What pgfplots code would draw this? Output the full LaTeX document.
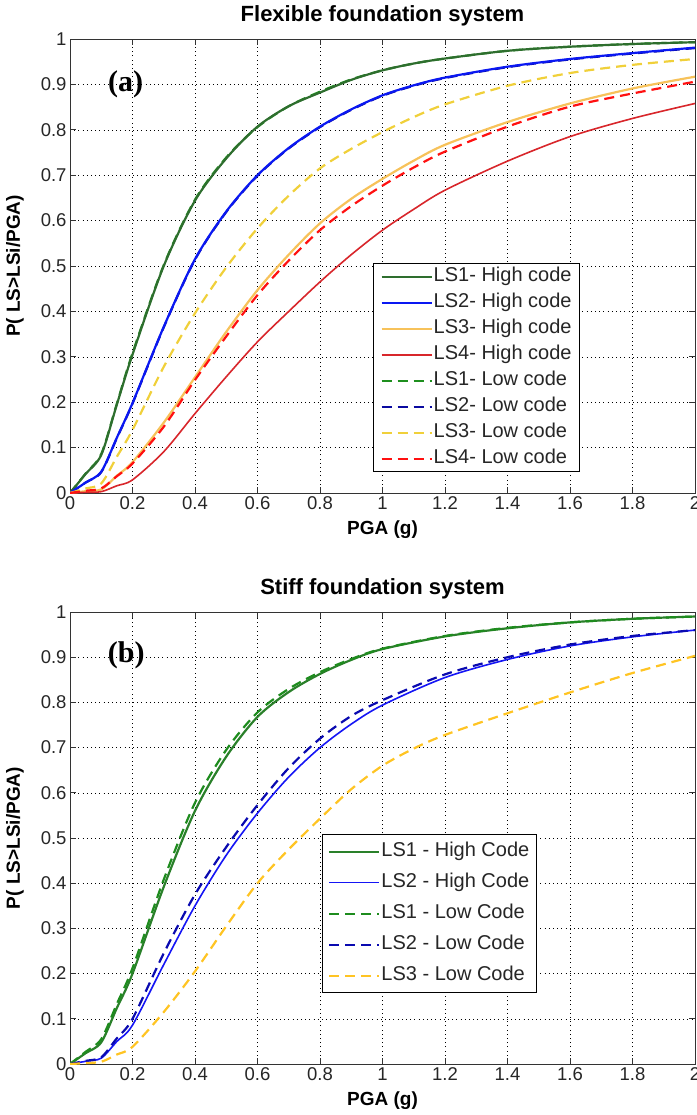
\documentclass[border=0pt]{standalone}
\usepackage{pgfplots}
\pgfplotsset{compat=1.18}
\usepackage{fontspec}
\setmainfont{Liberation Sans}
\newfontfamily\timesfont{Liberation Serif}

\definecolor{gA}{HTML}{2E6E2E}
\definecolor{gB}{HTML}{1E8F1E}
\definecolor{bA}{HTML}{0A18F2}
\definecolor{bB}{HTML}{0A0AA0}
\definecolor{yA}{HTML}{F7C25A}
\definecolor{yB}{HTML}{F0D03A}
\definecolor{rA}{HTML}{D8262B}
\definecolor{rB}{HTML}{FF1010}
\definecolor{gC}{HTML}{2A802A}
\definecolor{gD}{HTML}{1E8C1E}
\definecolor{bC}{HTML}{1515F5}
\definecolor{bD}{HTML}{0A0AB0}
\definecolor{yD}{HTML}{FFC423}

\pgfplotsset{
  mat/.style={
    scale only axis, width=625bp,
    xmin=0, xmax=2, ymin=0, ymax=1,
    xtick={0,0.2,0.4,0.6,0.8,1,1.2,1.4,1.6,1.8,2},
    ytick={0,0.1,0.2,0.3,0.4,0.5,0.6,0.7,0.8,0.9,1},
    grid=major,
    major grid style={black, line width=0.6bp, dash pattern=on 0.8bp off 3.4bp},
    tick pos=both, tick align=inside, major tick length=6bp,
    tick style={black!80, line width=0.8bp},
    axis line style={black!80, line width=1bp},
    every tick label/.append style={font=\fontsize{18.5bp}{20bp}\selectfont, text=black!85},
    /pgf/number format/fixed,
    /pgf/number format/precision=1,
    /pgf/number format/assume math mode=true,
    title style={font=\bfseries\fontsize{22bp}{24bp}\selectfont, at={(axis description cs:0.5,1)}, anchor=base, yshift=12bp},
    every axis x label/.style={at={(axis description cs:0.5,0)}, anchor=base, yshift=-41bp, font=\bfseries\fontsize{19bp}{22bp}\selectfont},
    every axis y label/.style={at={(axis description cs:-0.088,0.5)}, rotate=90, anchor=center, font=\bfseries\fontsize{19bp}{22bp}\selectfont},
    xlabel={PGA (g)},
    ylabel={P( LS>LSi/PGA)},
    legend cell align=left,
    legend image code/.code={\draw[##1] (0bp,0bp) -- (50bp,0bp);},
    every axis plot/.append style={smooth, tension=0.5},
  },
  sol/.style={solid, line width=2.2bp},
  das/.style={line width=2.2bp, dash pattern=on 10bp off 6bp},
}

\begin{document}
\begin{tikzpicture}
\useasboundingbox (0bp,0bp) rectangle (697bp,-1115bp);

% ---------------- Panel (a) ----------------
\begin{axis}[mat, at={(70bp,-493bp)}, anchor=south west, height=454bp,
  title={Flexible foundation system},
  legend style={at={(rel axis cs:0.485,0.046)}, anchor=south west, draw=black, line width=0.8bp, fill=white,
    font=\fontsize{20bp}{22bp}\selectfont, text=black!85, row sep=6bp,
    nodes={inner sep=1bp, text height=14bp, text depth=4bp}, inner xsep=7bp, inner ysep=3bp},
]
\addplot[das, color=gB, forget plot] coordinates {(0,0) (0.05,0.043) (0.1,0.086) (0.15,0.197) (0.2,0.308) (0.3,0.502) (0.4,0.646) (0.5,0.739) (0.6,0.806) (0.7,0.852) (0.8,0.884) (0.9,0.911) (1.0,0.931) (1.1,0.946) (1.2,0.957) (1.4,0.974) (1.6,0.983) (1.8,0.989) (2.0,0.993)};
\addplot[sol, color=gA, forget plot] coordinates {(0,0) (0.05,0.042) (0.1,0.084) (0.15,0.195) (0.2,0.305) (0.3,0.500) (0.4,0.644) (0.5,0.737) (0.6,0.807) (0.7,0.852) (0.8,0.882) (0.9,0.910) (1.0,0.931) (1.1,0.946) (1.2,0.957) (1.4,0.974) (1.6,0.983) (1.8,0.989) (2.0,0.993)};
\addplot[das, color=bB, forget plot] coordinates {(0,0) (0.05,0.023) (0.1,0.046) (0.15,0.121) (0.2,0.197) (0.3,0.365) (0.4,0.514) (0.5,0.619) (0.6,0.699) (0.7,0.759) (0.8,0.806) (0.9,0.844) (1.0,0.875) (1.1,0.897) (1.2,0.914) (1.4,0.938) (1.6,0.955) (1.8,0.968) (2.0,0.980)};
\addplot[sol, color=bA, forget plot] coordinates {(0,0) (0.05,0.023) (0.1,0.047) (0.15,0.122) (0.2,0.198) (0.3,0.366) (0.4,0.515) (0.5,0.620) (0.6,0.700) (0.7,0.760) (0.8,0.807) (0.9,0.845) (1.0,0.876) (1.1,0.898) (1.2,0.915) (1.4,0.939) (1.6,0.956) (1.8,0.969) (2.0,0.981)};
\addplot[sol, color=yA, forget plot] coordinates {(0,0) (0.05,0.004) (0.1,0.008) (0.15,0.038) (0.2,0.068) (0.3,0.155) (0.4,0.255) (0.5,0.355) (0.6,0.447) (0.7,0.525) (0.8,0.594) (0.9,0.648) (1.0,0.692) (1.1,0.732) (1.2,0.767) (1.4,0.817) (1.6,0.858) (1.8,0.891) (2.0,0.917)};
\addplot[sol, line width=1.6bp, color=rA, forget plot] coordinates {(0,0) (0.05,0.0015) (0.1,0.003) (0.15,0.016) (0.2,0.029) (0.3,0.091) (0.4,0.175) (0.5,0.256) (0.6,0.333) (0.7,0.400) (0.8,0.465) (0.9,0.525) (1.0,0.579) (1.1,0.625) (1.2,0.667) (1.4,0.731) (1.6,0.785) (1.8,0.825) (2.0,0.858)};
\addplot[das, color=yB, forget plot] coordinates {(0,0) (0.05,0.010) (0.1,0.021) (0.15,0.080) (0.2,0.139) (0.3,0.278) (0.4,0.396) (0.5,0.497) (0.6,0.583) (0.7,0.655) (0.8,0.715) (0.9,0.758) (1.0,0.795) (1.1,0.828) (1.2,0.856) (1.4,0.897) (1.6,0.925) (1.8,0.943) (2.0,0.956)};
\addplot[das, color=rB, forget plot] coordinates {(0,0) (0.05,0.005) (0.1,0.010) (0.15,0.037) (0.2,0.065) (0.3,0.146) (0.4,0.249) (0.5,0.345) (0.6,0.436) (0.7,0.512) (0.8,0.579) (0.9,0.632) (1.0,0.677) (1.1,0.717) (1.2,0.752) (1.4,0.807) (1.6,0.851) (1.8,0.880) (2.0,0.906)};
\addlegendimage{sol, color=gA}\addlegendentry{LS1- High code}
\addlegendimage{sol, color=bA}\addlegendentry{LS2- High code}
\addlegendimage{sol, color=yA}\addlegendentry{LS3- High code}
\addlegendimage{sol, color=rA}\addlegendentry{LS4- High code}
\addlegendimage{das, color=gB}\addlegendentry{LS1- Low code}
\addlegendimage{das, color=bB}\addlegendentry{LS2- Low code}
\addlegendimage{das, color=yB}\addlegendentry{LS3- Low code}
\addlegendimage{das, color=rB}\addlegendentry{LS4- Low code}
\node[anchor=center, inner sep=0pt, font=\timesfont\bfseries\fontsize{30bp}{32bp}\selectfont] at (axis cs:0.178,0.9) {(a)};
\end{axis}

% ---------------- Panel (b) ----------------
\begin{axis}[mat, at={(70bp,-1064bp)}, anchor=south west, height=452bp,
  title={Stiff foundation system},
  legend style={at={(rel axis cs:0.403,0.157)}, anchor=south west, draw=black, line width=0.8bp, fill=white,
    font=\fontsize{20bp}{22bp}\selectfont, text=black!85, row sep=11bp,
    nodes={inner sep=1bp, text height=14bp, text depth=4bp}, inner xsep=6bp, inner ysep=7bp},
]
\addplot[sol, color=gC] coordinates {(0,0) (0.05,0.024) (0.1,0.048) (0.15,0.124) (0.2,0.200) (0.3,0.392) (0.4,0.560) (0.5,0.680) (0.6,0.768) (0.7,0.823) (0.8,0.863) (0.9,0.894) (1.0,0.918) (1.2,0.946) (1.4,0.964) (1.6,0.977) (1.8,0.985) (2.0,0.990)};
\addlegendentry{LS1 - High Code}
\addplot[sol, line width=1.6bp, color=bC] coordinates {(0,0) (0.05,0.006) (0.1,0.013) (0.15,0.050) (0.2,0.086) (0.3,0.220) (0.4,0.350) (0.5,0.462) (0.6,0.555) (0.7,0.635) (0.8,0.700) (0.9,0.752) (1.0,0.794) (1.2,0.855) (1.4,0.895) (1.6,0.925) (1.8,0.945) (2.0,0.960)};
\addlegendentry{LS2 - High Code}
\addplot[das, color=gD] coordinates {(0,0) (0.05,0.027) (0.1,0.055) (0.15,0.133) (0.2,0.212) (0.3,0.408) (0.4,0.578) (0.5,0.695) (0.6,0.778) (0.7,0.830) (0.8,0.867) (0.9,0.896) (1.0,0.919) (1.2,0.947) (1.4,0.965) (1.6,0.977) (1.8,0.985) (2.0,0.990)};
\addlegendentry{LS1 - Low Code}
\addplot[das, color=bD] coordinates {(0,0) (0.05,0.007) (0.1,0.015) (0.15,0.057) (0.2,0.100) (0.3,0.245) (0.4,0.375) (0.5,0.480) (0.6,0.573) (0.7,0.655) (0.8,0.720) (0.9,0.770) (1.0,0.805) (1.2,0.862) (1.4,0.900) (1.6,0.928) (1.8,0.947) (2.0,0.960)};
\addlegendentry{LS2 - Low Code}
\addplot[das, color=yD] coordinates {(0,0) (0.05,0.002) (0.1,0.005) (0.15,0.021) (0.2,0.038) (0.3,0.115) (0.4,0.205) (0.5,0.305) (0.6,0.400) (0.7,0.475) (0.8,0.543) (0.9,0.608) (1.0,0.660) (1.1,0.698) (1.2,0.728) (1.4,0.776) (1.6,0.822) (1.8,0.865) (2.0,0.903)};
\addlegendentry{LS3 - Low Code}
\node[anchor=center, inner sep=0pt, font=\timesfont\bfseries\fontsize{30bp}{32bp}\selectfont] at (axis cs:0.18,0.905) {(b)};
\end{axis}
\end{tikzpicture}
\end{document}
